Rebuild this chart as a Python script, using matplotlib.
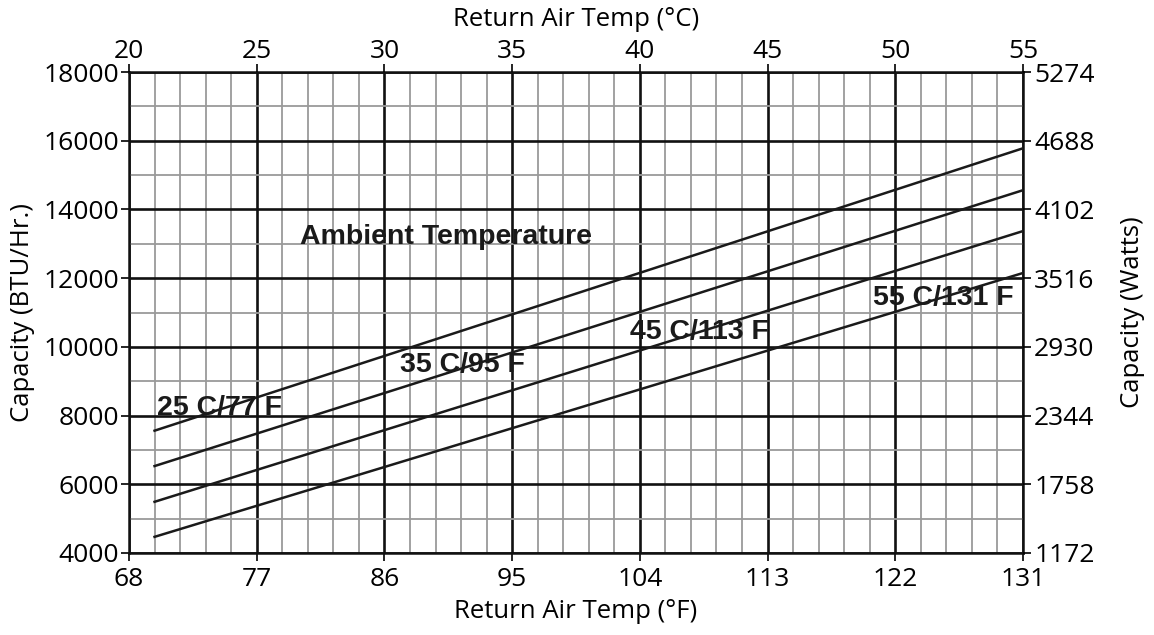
import numpy as np
import matplotlib
matplotlib.use("Agg")
import matplotlib.pyplot as plt
from matplotlib.ticker import FixedLocator

# =============================================================================
# Data
# =============================================================================

return_temp_f = [69.8, 131.0]          # line start / end (°F)
cap_25c = [7560, 15780]
cap_35c = [6530, 14560]
cap_45c = [5490, 13370]
cap_55c = [4470, 12150]

f_ticks = [68, 77, 86, 95, 104, 113, 122, 131]
c_ticks = [20, 25, 30, 35, 40, 45, 50, 55]
btu_ticks = [4000, 6000, 8000, 10000, 12000, 14000, 16000, 18000]
watt_ticks = [1172, 1758, 2344, 2930, 3516, 4102, 4688, 5274]

curve_labels = ["25 C/77 F", "35 C/95 F", "45 C/113 F", "55 C/131 F"]
label_pos_f = [70.0, 87.1, 103.3, 120.4]
label_pos_btu = [8220, 9470, 10430, 11420]

# =============================================================================
# Plot
# =============================================================================

plt.rcParams["font.family"] = ["Open Sans", "DejaVu Sans"]
tick_fs = 19
label_fs = 18.5

fig = plt.figure(figsize=(11.54, 6.35), dpi=100)
ax = fig.add_axes([129 / 1154, 1 - 553 / 635, (1023 - 129) / 1154, (553 - 72) / 635])

ax.set_xlim(68, 131)
ax.set_ylim(4000, 18000)

# grid: minor every 1 °C and 1000 BTU, major every 5 °C and 2000 BTU
minor_x = [68 + 1.8 * k for k in range(36) if k % 5 != 0]
minor_y = list(range(5000, 18000, 2000))
ax.xaxis.set_minor_locator(FixedLocator(minor_x))
ax.yaxis.set_minor_locator(FixedLocator(minor_y))
ax.grid(which="minor", color="#9a9a9a", linewidth=1.3)
ax.grid(which="major", color="#111111", linewidth=1.9)
ax.set_axisbelow(True)

for caps in [cap_25c, cap_35c, cap_45c, cap_55c]:
    ax.plot(return_temp_f, caps, color="#1a1a1a", linewidth=1.8, zorder=3)

ax.set_xticks(f_ticks)
ax.set_xticklabels([str(v) for v in f_ticks])
ax.set_yticks(btu_ticks)
ax.set_yticklabels([str(v) for v in btu_ticks])
ax.tick_params(which="major", direction="out", length=6, width=1.2,
               labelsize=tick_fs, pad=1)
ax.tick_params(axis="x", which="major", pad=4)
ax.tick_params(which="minor", length=0)
ax.set_xlabel("Return Air Temp (°F)", fontsize=label_fs, labelpad=5)
ax.set_ylabel("Capacity (BTU/Hr.)", fontsize=label_fs, labelpad=6)

for s in ax.spines.values():
    s.set_linewidth(1.8)
    s.set_color("#111111")

# top axis in °C
top = ax.twiny()
top.set_xlim(20, 55)
top.set_xticks(c_ticks)
top.set_xticklabels([str(v) for v in c_ticks])
top.tick_params(direction="out", length=6, width=1.2, labelsize=tick_fs, pad=0)
top.set_xlabel("Return Air Temp (°C)", fontsize=label_fs, labelpad=9)

# right axis in Watts
right = ax.twinx()
right.set_ylim(1172, 5274)
right.set_yticks(watt_ticks)
right.set_yticklabels([str(v) for v in watt_ticks])
right.tick_params(direction="out", length=6, width=1.2, labelsize=tick_fs, pad=2)
right.set_ylabel("Capacity (Watts)", fontsize=label_fs, labelpad=18)

for a in (top, right):
    for s in a.spines.values():
        s.set_visible(False)

bold = dict(family=["Liberation Sans", "DejaVu Sans"], fontweight="bold",
            fontsize=20.5, color="#1a1a1a", zorder=4)
ax.text(80.05, 13200, "Ambient Temperature", ha="left", va="center", **bold)
for txt, xf, yb in zip(curve_labels, label_pos_f, label_pos_btu):
    ax.text(xf, yb, txt, ha="left", va="center", **bold)

fig.savefig("out.png", dpi=100)
